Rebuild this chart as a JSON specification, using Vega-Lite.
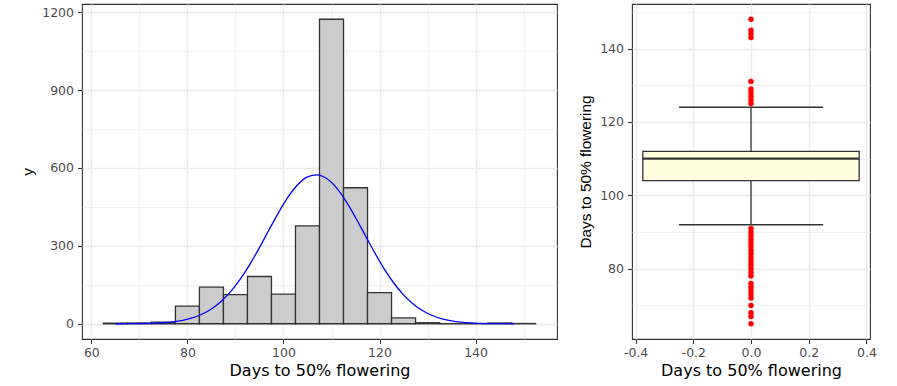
{
  "$schema": "https://vega.github.io/schema/vega-lite/v6.json",
  "background": "white",
  "padding": {"left": 20, "top": 3, "right": 25, "bottom": 4},
  "spacing": 20,
  "datasets": {
    "bins": [
      {"start": 62.5, "end": 67.5, "count": 2},
      {"start": 67.5, "end": 72.5, "count": 3},
      {"start": 72.5, "end": 77.5, "count": 6},
      {"start": 77.5, "end": 82.5, "count": 68},
      {"start": 82.5, "end": 87.5, "count": 141},
      {"start": 87.5, "end": 92.5, "count": 112},
      {"start": 92.5, "end": 97.5, "count": 182},
      {"start": 97.5, "end": 102.5, "count": 114},
      {"start": 102.5, "end": 107.5, "count": 377},
      {"start": 107.5, "end": 112.5, "count": 1173},
      {"start": 112.5, "end": 117.5, "count": 524},
      {"start": 117.5, "end": 122.5, "count": 120},
      {"start": 122.5, "end": 127.5, "count": 23},
      {"start": 127.5, "end": 132.5, "count": 4},
      {"start": 132.5, "end": 137.5, "count": 0},
      {"start": 137.5, "end": 142.5, "count": 0},
      {"start": 142.5, "end": 147.5, "count": 3},
      {"start": 147.5, "end": 152.5, "count": 1}
    ],
    "normal": [
      {"days": 65, "y": 0.11}, {"days": 67, "y": 0.25}, {"days": 69, "y": 0.54},
      {"days": 71, "y": 1.11}, {"days": 73, "y": 2.19}, {"days": 75, "y": 4.17},
      {"days": 77, "y": 7.6}, {"days": 79, "y": 13.4}, {"days": 81, "y": 22.5},
      {"days": 83, "y": 36.6}, {"days": 85, "y": 57.1}, {"days": 87, "y": 85.6},
      {"days": 89, "y": 123.6}, {"days": 91, "y": 171.5}, {"days": 93, "y": 228.7},
      {"days": 95, "y": 293.4}, {"days": 97, "y": 362.0}, {"days": 99, "y": 429.2},
      {"days": 101, "y": 489.5}, {"days": 103, "y": 536.7}, {"days": 105, "y": 565.9},
      {"days": 107, "y": 573.7}, {"days": 109, "y": 559.3}, {"days": 111, "y": 524.3},
      {"days": 113, "y": 472.5}, {"days": 115, "y": 409.5}, {"days": 117, "y": 341.2},
      {"days": 119, "y": 273.5}, {"days": 121, "y": 210.7}, {"days": 123, "y": 156.1},
      {"days": 125, "y": 111.2}, {"days": 127, "y": 76.2}, {"days": 129, "y": 50.2},
      {"days": 131, "y": 31.8}, {"days": 133, "y": 19.3}, {"days": 135, "y": 11.3},
      {"days": 137, "y": 6.4}, {"days": 139, "y": 3.45}, {"days": 141, "y": 1.8},
      {"days": 143, "y": 0.9}, {"days": 145, "y": 0.43}, {"days": 147, "y": 0.2},
      {"days": 148, "y": 0.13}
    ],
    "summary": [
      {"lower": 92, "q1": 104, "median": 110, "q3": 112, "upper": 124}
    ],
    "outliers": [
      {"days": 125}, {"days": 126}, {"days": 127}, {"days": 128}, {"days": 129},
      {"days": 131}, {"days": 143}, {"days": 144}, {"days": 145}, {"days": 148},
      {"days": 91}, {"days": 90}, {"days": 89}, {"days": 88}, {"days": 87},
      {"days": 86}, {"days": 85}, {"days": 84}, {"days": 83}, {"days": 82},
      {"days": 81}, {"days": 80}, {"days": 79}, {"days": 78}, {"days": 76},
      {"days": 75}, {"days": 74}, {"days": 73}, {"days": 72}, {"days": 70},
      {"days": 68}, {"days": 67}, {"days": 65}
    ]
  },
  "config": {
    "font": "DejaVu Sans",
    "view": {"stroke": "#333333", "strokeWidth": 1.1},
    "axis": {
      "domain": false,
      "grid": true,
      "gridColor": "#EBEBEB",
      "labelFont": "DejaVu Sans",
      "labelFontSize": 12.5,
      "labelColor": "#4D4D4D",
      "labelPadding": 4,
      "tickColor": "#333333",
      "tickSize": 4.5,
      "tickWidth": 1.1,
      "titleFont": "DejaVu Sans",
      "titleFontSize": 16,
      "titleFontWeight": "normal",
      "titleColor": "#000000"
    },
    "axisY": {
      "titleFont": "Liberation Sans",
      "titleFontSize": 15.4,
      "titlePadding": 6
    },
    "axisX": {"titlePadding": 3, "labelPadding": 3}
  },
  "hconcat": [
    {
      "width": 475,
      "height": 335,
      "layer": [
        {
          "data": {"name": "bins"},
          "mark": {"type": "rect", "fill": "#CCCCCC", "stroke": "#333333", "strokeWidth": 1.3},
          "encoding": {
            "x": {
              "field": "start",
              "type": "quantitative",
              "scale": {"domain": [58.05, 156.95], "nice": false, "zero": false},
              "axis": {
                "title": "Days to 50% flowering",
                "values": [60, 70, 80, 90, 100, 110, 120, 130, 140, 150],
                "labelExpr": "datum.value % 20 === 0 ? datum.label : ''",
                "gridWidth": {"condition": {"test": "datum.value % 20 === 0", "value": 1.4}, "value": 0.7},
                "tickOpacity": {"condition": {"test": "datum.value % 20 === 0", "value": 1}, "value": 0}
              }
            },
            "x2": {"field": "end"},
            "y": {
              "field": "count",
              "type": "quantitative",
              "scale": {"domain": [-58.65, 1231.65], "nice": false, "zero": false},
              "axis": {
                "title": "y",
                "format": "d",
                "values": [0, 150, 300, 450, 600, 750, 900, 1050, 1200],
                "labelExpr": "datum.value % 300 === 0 ? datum.label : ''",
                "gridWidth": {"condition": {"test": "datum.value % 300 === 0", "value": 1.4}, "value": 0.7},
                "tickOpacity": {"condition": {"test": "datum.value % 300 === 0", "value": 1}, "value": 0}
              }
            },
            "y2": {"datum": 0}
          }
        },
        {
          "data": {"name": "normal"},
          "mark": {"type": "line", "color": "#0000FF", "strokeWidth": 1.3, "interpolate": "monotone"},
          "encoding": {
            "x": {"field": "days", "type": "quantitative"},
            "y": {"field": "y", "type": "quantitative"}
          }
        }
      ]
    },
    {
      "width": 238,
      "height": 335,
      "layer": [
        {
          "data": {"name": "summary"},
          "mark": {"type": "rule", "color": "#333333", "strokeWidth": 1.3},
          "encoding": {
            "x": {
              "datum": 0,
              "type": "quantitative",
              "scale": {"domain": [-0.4125, 0.4125], "nice": false, "zero": false},
              "axis": {
                "title": "Days to 50% flowering",
                "values": [-0.4, -0.3, -0.2, -0.1, 0, 0.1, 0.2, 0.3, 0.4],
                "labelExpr": "abs(round(datum.value * 10)) % 2 === 0 ? replace(format(datum.value, '.1f'), '\u2212', '-') : ''",
                "gridWidth": {"condition": {"test": "abs(round(datum.value * 10)) % 2 === 0", "value": 1.4}, "value": 0.7},
                "tickOpacity": {"condition": {"test": "abs(round(datum.value * 10)) % 2 === 0", "value": 1}, "value": 0}
              }
            },
            "y": {
              "field": "lower",
              "type": "quantitative",
              "scale": {"domain": [60.85, 152.15], "nice": false, "zero": false},
              "axis": {
                "title": "Days to 50% flowering",
                "values": [70, 80, 90, 100, 110, 120, 130, 140, 150],
                "labelExpr": "datum.value % 20 === 0 ? datum.label : ''",
                "gridWidth": {"condition": {"test": "datum.value % 20 === 0", "value": 1.4}, "value": 0.7},
                "tickOpacity": {"condition": {"test": "datum.value % 20 === 0", "value": 1}, "value": 0}
              }
            },
            "y2": {"field": "upper"}
          }
        },
        {
          "data": {"name": "summary"},
          "mark": {"type": "rule", "color": "#333333", "strokeWidth": 1.5},
          "encoding": {
            "x": {"datum": -0.25, "type": "quantitative"},
            "x2": {"datum": 0.25},
            "y": {"field": "upper", "type": "quantitative"}
          }
        },
        {
          "data": {"name": "summary"},
          "mark": {"type": "rule", "color": "#333333", "strokeWidth": 1.5},
          "encoding": {
            "x": {"datum": -0.25, "type": "quantitative"},
            "x2": {"datum": 0.25},
            "y": {"field": "lower", "type": "quantitative"}
          }
        },
        {
          "data": {"name": "summary"},
          "mark": {"type": "rect", "fill": "#FFFFE0", "stroke": "#333333", "strokeWidth": 1.3},
          "encoding": {
            "x": {"datum": -0.375, "type": "quantitative"},
            "x2": {"datum": 0.375},
            "y": {"field": "q1", "type": "quantitative"},
            "y2": {"field": "q3"}
          }
        },
        {
          "data": {"name": "summary"},
          "mark": {"type": "rule", "color": "#333333", "strokeWidth": 2.2},
          "encoding": {
            "x": {"datum": -0.375, "type": "quantitative"},
            "x2": {"datum": 0.375},
            "y": {"field": "median", "type": "quantitative"}
          }
        },
        {
          "data": {"name": "outliers"},
          "mark": {"type": "circle", "color": "#FF0000", "size": 30, "opacity": 1},
          "encoding": {
            "x": {"datum": 0, "type": "quantitative"},
            "y": {"field": "days", "type": "quantitative"}
          }
        }
      ]
    }
  ]
}
